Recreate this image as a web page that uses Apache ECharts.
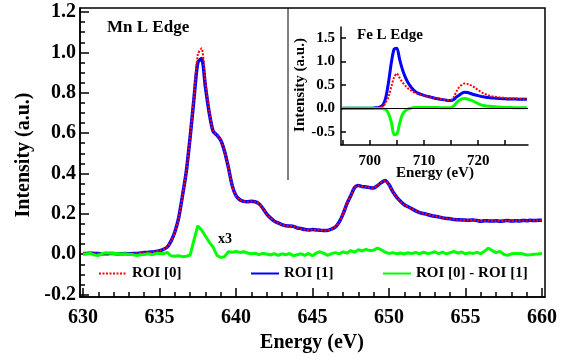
<!DOCTYPE html>
<html>
<head>
<meta charset="utf-8">
<script src="https://cdn.jsdelivr.net/npm/echarts@6/dist/echarts.min.js"></script>
<style>
html, body { margin: 0; padding: 0; background: #fff; }
#chart { width: 568px; height: 360px; }
</style>
</head>
<body>
<div id="chart"></div>
<script>
// Mn L edge, sampled every 0.25 eV from 630 eV
const mnStart = 630
const mnStep = 0.25
const mnRoi1 = [
  0.003, 0.004, 0.005, 0.004, 0.003, 0.002, 0.002, 0.003,
  0.003, 0.002, 0.002, 0.003, 0.002, 0.003, 0.004, 0.006,
  0.008, 0.009, 0.011, 0.013, 0.017, 0.024, 0.035, 0.065,
  0.11, 0.18, 0.29, 0.41, 0.58, 0.77, 0.95, 0.97,
  0.83, 0.70, 0.61, 0.59, 0.565, 0.51, 0.43, 0.34,
  0.29, 0.27, 0.262, 0.26, 0.262, 0.26, 0.25, 0.228,
  0.20, 0.18, 0.164, 0.155, 0.147, 0.141, 0.14, 0.138,
  0.13, 0.127, 0.122, 0.12, 0.122, 0.12, 0.119, 0.117,
  0.118, 0.125, 0.135, 0.16, 0.20, 0.25, 0.29, 0.33,
  0.34, 0.335, 0.333, 0.33, 0.328, 0.34, 0.355, 0.365,
  0.345, 0.31, 0.283, 0.262, 0.245, 0.235, 0.225, 0.215,
  0.206, 0.202, 0.197, 0.192, 0.188, 0.185, 0.18, 0.177,
  0.176, 0.172, 0.171, 0.17, 0.169, 0.168, 0.17, 0.167,
  0.163, 0.166, 0.165, 0.164, 0.166, 0.163, 0.165, 0.167,
  0.164, 0.166, 0.165, 0.167, 0.166, 0.168, 0.167, 0.168,
  0.168
]
const mnRoi0 = [
  0.003, 0.004, 0.005, 0.004, 0.003, 0.002, 0.003, 0.003,
  0.003, 0.002, 0.002, 0.003, 0.002, 0.003, 0.004, 0.006,
  0.008, 0.009, 0.011, 0.013, 0.017, 0.024, 0.036, 0.064,
  0.11, 0.18, 0.29, 0.41, 0.58, 0.78, 0.99, 1.02,
  0.85, 0.71, 0.61, 0.59, 0.565, 0.51, 0.43, 0.34,
  0.29, 0.27, 0.262, 0.26, 0.262, 0.26, 0.25, 0.228,
  0.20, 0.18, 0.164, 0.155, 0.147, 0.141, 0.14, 0.138,
  0.13, 0.127, 0.122, 0.12, 0.122, 0.121, 0.12, 0.117,
  0.118, 0.125, 0.136, 0.16, 0.20, 0.25, 0.29, 0.33,
  0.34, 0.336, 0.334, 0.33, 0.329, 0.341, 0.356, 0.365,
  0.345, 0.31, 0.283, 0.262, 0.245, 0.235, 0.225, 0.215,
  0.206, 0.202, 0.197, 0.192, 0.189, 0.185, 0.18, 0.177,
  0.176, 0.173, 0.171, 0.17, 0.169, 0.168, 0.17, 0.167,
  0.163, 0.166, 0.166, 0.164, 0.166, 0.163, 0.165, 0.167,
  0.164, 0.166, 0.165, 0.167, 0.166, 0.168, 0.167, 0.168,
  0.168
]
// difference multiplied by 3
const mnDiff = [
  0.000, 0.002, 0.003, -0.004, -0.006, 0.004, 0.007, 0.005,
  0.003, 0.004, 0.001, 0.002, 0.000, -0.002, -0.006, -0.003,
  -0.001, 0.002, -0.003, 0.003, 0.005, 0.002, 0.009, -0.008,
  -0.010, -0.008, -0.012, -0.010, -0.004, 0.07, 0.14, 0.12,
  0.09, 0.06, 0.035, -0.005, -0.016, -0.012, 0.012, 0.010,
  0.013, 0.009, 0.012, 0.006, 0.002, 0.005, -0.002, 0.004,
  0.001, -0.004, 0.003, -0.006, 0.002, -0.003, 0.004, -0.008,
  -0.003, 0.002, -0.006, 0.004, -0.008, 0.006, 0.012, 0.004,
  -0.006, 0.003, 0.008, 0.002, 0.012, 0.005, 0.018, 0.010,
  0.022, 0.016, 0.024, 0.018, 0.020, 0.030, 0.022, 0.010,
  0.004, 0.008, 0.002, 0.006, 0.001, 0.007, 0.003, 0.009,
  0.002, 0.010, 0.004, 0.006, 0.012, 0.003, 0.010, 0.002,
  0.008, 0.014, 0.005, 0.011, 0.002, 0.008, 0.004, 0.009,
  0.003, 0.015, 0.030, 0.018, 0.008, 0.014, 0.000, -0.006,
  0.002, 0.004, 0.003, 0.002, -0.004, -0.003, 0.000, 0.001,
  0.003
]

// Fe L edge (inset), sampled every 0.5 eV from 695 eV
const feStart = 695
const feStep = 0.5
const feRoi1 = [
  0, 0, 0, 0, 0, 0, 0, 0, 0, 0.002,
  0.003, 0.004, 0.01, 0.015, 0.03, 0.08, 0.25, 0.58, 0.98, 1.26,
  1.28, 1.05, 0.84, 0.68, 0.56, 0.47, 0.40, 0.35, 0.32, 0.295,
  0.275, 0.26, 0.245, 0.23, 0.215, 0.205, 0.195, 0.185, 0.175, 0.165,
  0.165, 0.19, 0.24, 0.28, 0.32, 0.34, 0.335, 0.32, 0.30, 0.285,
  0.27, 0.255, 0.245, 0.235, 0.228, 0.222, 0.217, 0.212, 0.208, 0.205,
  0.202, 0.2, 0.198, 0.197, 0.196, 0.195, 0.194, 0.193, 0.193
]
const feRoi0 = [
  0, 0, 0, 0, 0, 0, 0, 0, 0, 0.002,
  0.003, 0.004, 0.008, 0.012, 0.02, 0.05, 0.13, 0.26, 0.47, 0.66,
  0.74, 0.65, 0.56, 0.49, 0.43, 0.39, 0.35, 0.32, 0.30, 0.285,
  0.27, 0.255, 0.24, 0.23, 0.22, 0.21, 0.20, 0.19, 0.18, 0.175,
  0.18, 0.24, 0.36, 0.45, 0.50, 0.53, 0.52, 0.50, 0.47, 0.43,
  0.39, 0.35, 0.32, 0.295, 0.275, 0.26, 0.25, 0.24, 0.232, 0.226,
  0.22, 0.216, 0.213, 0.21, 0.208, 0.206, 0.205, 0.204, 0.203
]
const feDiff = [
  0, 0, 0, 0, 0, 0, 0, 0, 0, 0,
  0, 0, -0.002, -0.003, -0.005, -0.01, -0.03, -0.12, -0.30, -0.56,
  -0.55, -0.33, -0.14, -0.06, -0.02, 0.0, 0.015, 0.02, 0.02, 0.02,
  0.02, 0.02, 0.02, 0.02, 0.018, 0.016, 0.014, 0.012, 0.01, 0.01,
  0.015, 0.05, 0.12, 0.17, 0.20, 0.21, 0.2, 0.18, 0.16, 0.13,
  0.10, 0.075, 0.06, 0.05, 0.045, 0.04, 0.035, 0.03, 0.026, 0.022,
  0.02, 0.018, 0.016, 0.015, 0.014, 0.013, 0.012, 0.011, 0.01
]

// tick labels
const mnXTicks = [630, 635, 640, 645, 650, 655, 660]
const mnYTicks = [-0.2, 0, 0.2, 0.4, 0.6, 0.8, 1.0, 1.2]
const feXTicks = [695, 700, 705, 710, 715, 720, 725]
const feXLabels = [700, 710, 720]
const feYTicks = [-0.5, 0, 0.5, 1.0, 1.5]

const mnXMinor = []
for (let e = 630; e <= 660; e++) mnXMinor.push(e)
const mnYMinor = []
for (let k = -4; k <= 24; k++) mnYMinor.push(+(k * 0.05).toFixed(2))

const pairs = (start, step, vals) => vals.map((v, i) => [start + i * step, v])

const font = 'Liberation Serif'
const txt = (size) => ({ fontFamily: font, fontWeight: 'bold', fontSize: size, color: '#000' })
const axisLine = { show: true, onZero: false, lineStyle: { color: '#000', width: 1.5 } }

const chart = echarts.init(document.getElementById('chart'))

chart.setOption({
  animation: false,
  backgroundColor: '#fff',
  grid: [
    { left: 80, top: 8, width: 465, height: 289, show: true, borderColor: '#000', borderWidth: 1.5 },
    { left: 341, top: 27, width: 187, height: 118 }
  ],
  xAxis: [
    {
      gridIndex: 0, type: 'value', position: 'bottom', min: 629.8, max: 660.2,
      axisLine,
      axisTick: { inside: true, length: 9, customValues: mnXTicks, lineStyle: { width: 1.5 } },
      axisLabel: { customValues: mnXTicks, margin: 11, ...txt(20) },
      splitLine: { show: false }
    },
    {
      gridIndex: 0, type: 'value', position: 'bottom', min: 629.8, max: 660.2,
      axisLine: { show: false, onZero: false },
      axisTick: { inside: true, length: 5, customValues: mnXMinor, lineStyle: { width: 1.5, color: '#000' } },
      axisLabel: { show: false },
      splitLine: { show: false }
    },
    {
      gridIndex: 1, type: 'value', position: 'bottom', min: 694.7, max: 729.2,
      axisLine,
      axisTick: { inside: true, length: 5, customValues: feXTicks, lineStyle: { width: 1.5 } },
      axisLabel: { customValues: feXLabels, margin: 9, ...txt(15) },
      splitLine: { show: false }
    }
  ],
  yAxis: [
    {
      gridIndex: 0, type: 'value', position: 'left', min: -0.212, max: 1.22,
      axisLine,
      axisTick: { show: true, inside: true, length: 9, customValues: mnYTicks, lineStyle: { width: 1.5 } },
      axisLabel: { customValues: mnYTicks, margin: 4, formatter: v => v.toFixed(1), ...txt(20) },
      splitLine: { show: false }
    },
    {
      gridIndex: 0, type: 'value', position: 'left', min: -0.212, max: 1.22,
      axisLine: { show: false, onZero: false },
      axisTick: { show: true, inside: true, length: 5, customValues: mnYMinor, lineStyle: { width: 1.5, color: '#000' } },
      axisLabel: { show: false },
      splitLine: { show: false }
    },
    {
      gridIndex: 1, type: 'value', position: 'left', min: -0.78, max: 1.73,
      axisLine,
      axisTick: { show: true, inside: true, length: 5, customValues: feYTicks, lineStyle: { width: 1.5 } },
      axisLabel: { customValues: feYTicks, margin: 6, formatter: v => v.toFixed(1), ...txt(15) },
      splitLine: { show: false }
    }
  ],
  legend: [
    { left: 93, top: 261, data: ['ROI [0]'] },
    { left: 245, top: 261, data: ['ROI [1]'] },
    { left: 377, top: 261, data: ['ROI [0] - ROI [1]'] }
  ].map(l => ({
    ...l, itemWidth: 28, itemHeight: 14, itemGap: 0, selectedMode: false,
    itemStyle: { opacity: 0 }, textStyle: txt(15)
  })),
  series: [
    {
      name: 'ROI [1]', type: 'line', xAxisIndex: 0, yAxisIndex: 0, symbol: 'none', smooth: 0.25,
      data: pairs(mnStart, mnStep, mnRoi1),
      lineStyle: { color: '#0000ff', width: 3.5 }, itemStyle: { color: '#0000ff' }
    },
    {
      name: 'ROI [0]', type: 'line', xAxisIndex: 0, yAxisIndex: 0, symbol: 'none', smooth: 0.25,
      data: pairs(mnStart, mnStep, mnRoi0),
      lineStyle: { color: '#ff0000', width: 2, type: [2, 1.5] }, itemStyle: { color: '#ff0000' }
    },
    {
      name: 'ROI [0] - ROI [1]', type: 'line', xAxisIndex: 0, yAxisIndex: 0, symbol: 'none',
      data: pairs(mnStart, mnStep, mnDiff),
      lineStyle: { color: '#00ff00', width: 3 }, itemStyle: { color: '#00ff00' }
    },
    {
      name: 'Fe ROI [1]', type: 'line', xAxisIndex: 2, yAxisIndex: 2, symbol: 'none', smooth: 0.3,
      data: pairs(feStart, feStep, feRoi1),
      lineStyle: { color: '#0000ff', width: 3 },
      markLine: {
        silent: true, symbol: ['none', 'none'], label: { show: false },
        lineStyle: { color: '#000', width: 1, type: 'solid' },
        data: [{ yAxis: 0 }]
      }
    },
    {
      name: 'Fe ROI [0]', type: 'line', xAxisIndex: 2, yAxisIndex: 2, symbol: 'none', smooth: 0.3,
      data: pairs(feStart, feStep, feRoi0),
      lineStyle: { color: '#ff0000', width: 2, type: [2, 1.5] }
    },
    {
      name: 'Fe ROI [0] - ROI [1]', type: 'line', xAxisIndex: 2, yAxisIndex: 2, symbol: 'none', smooth: 0.3,
      data: pairs(feStart, feStep, feDiff),
      lineStyle: { color: '#00ff00', width: 3 }
    }
  ],
  graphic: [
    { type: 'line', shape: { x1: 288, y1: 8, x2: 288, y2: 180 }, style: { stroke: '#000', lineWidth: 1 } },
    { type: 'text', x: 107, y: 28, style: { text: 'Mn L Edge', font: `bold 17px "${font}"`, fill: '#000', align: 'left', verticalAlign: 'middle' } },
    { type: 'text', x: 357, y: 35, style: { text: 'Fe L Edge', font: `bold 15px "${font}"`, fill: '#000', align: 'left', verticalAlign: 'middle' } },
    { type: 'text', x: 218, y: 239, style: { text: 'x3', font: `bold 14px "${font}"`, fill: '#000', align: 'left', verticalAlign: 'middle' } },
    { type: 'text', x: 312, y: 343, style: { text: 'Energy (eV)', font: `bold 20px "${font}"`, fill: '#000', align: 'center', verticalAlign: 'middle' } },
    { type: 'text', x: 24, y: 155, rotation: Math.PI / 2, style: { text: 'Intensity (a.u.)', font: `bold 20px "${font}"`, fill: '#000', align: 'center', verticalAlign: 'middle' } },
    { type: 'text', x: 435, y: 173, style: { text: 'Energy (eV)', font: `bold 15px "${font}"`, fill: '#000', align: 'center', verticalAlign: 'middle' } },
    { type: 'text', x: 300, y: 85, rotation: Math.PI / 2, style: { text: 'Intensity (a.u.)', font: `bold 15px "${font}"`, fill: '#000', align: 'center', verticalAlign: 'middle' } }
  ]
})
</script>
</body>
</html>
